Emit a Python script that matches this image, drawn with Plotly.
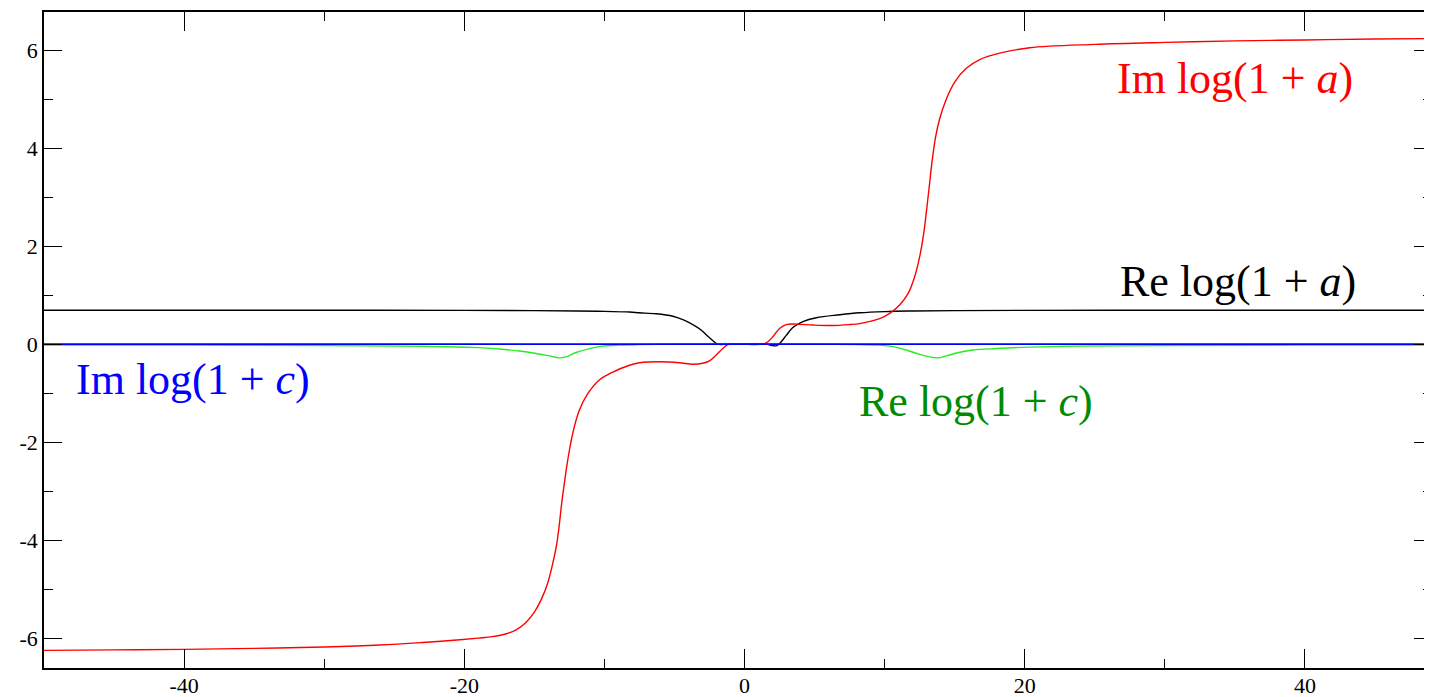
import plotly.graph_objects as go

# ---- data ----
re_a_x = [-50, -40, -30, -20, -15, -12, -10, -8.2, -7.5, -6.31, -5.12, -4.4, -3.69, -3.1, -2.62, -2.21, -1.9, -1.2,
          0, 1.55, 2.02, 2.31, 2.62, 2.98, 3.45, 4.17, 5.12, 6.79, 8.21, 10, 12, 15, 20, 30, 40, 50]
re_a_y = [0.693, 0.693, 0.692, 0.69, 0.685, 0.678, 0.67, 0.655, 0.64, 0.62, 0.57, 0.50, 0.40, 0.29, 0.16, 0.06, 0.0, 0.0,
          0.0, 0.0, -0.03, -0.03, 0.05, 0.18, 0.34, 0.46, 0.54, 0.60, 0.64, 0.665, 0.677, 0.685, 0.69, 0.692, 0.693, 0.693]

im_a_x = [-50, -45, -40, -35, -30, -26, -23, -21, -19, -18, -17, -16.3, -15.6, -15.0, -14.52, -14.05, -13.69, -13.40,
          -13.21, -13.05, -12.86, -12.62, -12.26, -11.79, -11.19, -10.36, -9.40, -8.21, -7.5, -6.07, -4.64, -3.69, -2.98,
          -2.5, -2.02, -1.55, -1.19, -0.36, 1.31, 1.67, 2.02, 2.5, 2.98, 3.69, 4.88, 6.31, 7.5, 8.21, 9.64, 10.36, 11.07,
          11.67, 12.14, 12.5, 12.79, 13.02, 13.21, 13.4, 13.64, 13.93, 14.4, 15.0, 15.83, 16.79, 18.21, 20.36, 25, 30,
          35, 40, 45, 50]
im_a_y = [-6.25, -6.24, -6.23, -6.21, -6.18, -6.14, -6.09, -6.05, -6.00, -5.97, -5.91, -5.83, -5.68, -5.47, -5.22, -4.88,
          -4.48, -4.07, -3.66, -3.25, -2.84, -2.37, -1.82, -1.35, -1.01, -0.73, -0.57, -0.43, -0.38, -0.36, -0.38, -0.41,
          -0.39, -0.34, -0.22, -0.09, -0.01, 0.0, 0.0, 0.05, 0.15, 0.32, 0.40, 0.41, 0.39, 0.38, 0.40, 0.42, 0.52, 0.63,
          0.80, 1.03, 1.37, 1.78, 2.26, 2.80, 3.28, 3.76, 4.23, 4.60, 5.00, 5.35, 5.63, 5.81, 5.94, 6.05, 6.12, 6.16,
          6.19, 6.21, 6.23, 6.24]

re_c_x = [-50, -40, -30, -25, -22, -18.93, -17.5, -16.07, -14.88, -13.93, -13.21, -12.74, -12.02, -11.07, -10.12, -8.93,
          -7.5, -5, 0, 5, 8, 9.64, 10.6, 11.55, 12.5, 13.21, 13.81, 14.4, 15.12, 16.31, 17.98, 20.36, 23.93, 30, 40, 50]
re_c_y = [-0.02, -0.02, -0.03, -0.04, -0.05, -0.07, -0.10, -0.14, -0.19, -0.24, -0.28, -0.26, -0.17, -0.09, -0.04, -0.02,
          -0.01, 0.0, 0.0, 0.0, -0.01, -0.02, -0.05, -0.12, -0.21, -0.26, -0.28, -0.24, -0.18, -0.12, -0.09, -0.06, -0.04,
          -0.03, -0.02, -0.02]

im_c_x = [-50, -25, 0, 25, 50]
im_c_y = [0.0, 0.0, 0.0, 0.0, 0.0]

x_tick_vals = [-40, -20, 0, 20, 40]
x_tick_text = ["-40", "-20", "0", "20", "40"]
x_minor_vals = [-50, -40, -30, -20, -10, 0, 10, 20, 30, 40]
y_tick_vals = [-6, -4, -2, 0, 2, 4, 6]
y_tick_text = ["-6", "-4", "-2", "0", "2", "4", "6"]
y_minor_vals = [-6, -5, -4, -3, -2, -1, 0, 1, 2, 3, 4, 5, 6]

labels = ["Im log(1 + <i>a</i>)", "Re log(1 + <i>a</i>)",
          "Im log(1 + <i>c</i>)", "Re log(1 + <i>c</i>)"]
label_x = [35.0, 35.2, -39.4, 16.5]
label_y = [5.43, 1.27, -0.73, -1.18]
label_colors = ["#ff0000", "#000000", "#0000ff", "#008a00"]

fig = go.Figure()
fig.add_trace(go.Scatter(x=re_a_x, y=re_a_y, mode="lines", line=dict(color="#000000", width=1.4, shape="spline", smoothing=1.0)))
fig.add_trace(go.Scatter(x=im_a_x, y=im_a_y, mode="lines", line=dict(color="#ff0000", width=1.4, shape="spline", smoothing=1.0)))
fig.add_trace(go.Scatter(x=re_c_x, y=re_c_y, mode="lines", line=dict(color="#22ee22", width=1.4, shape="spline", smoothing=1.0)))
fig.add_trace(go.Scatter(x=im_c_x, y=im_c_y, mode="lines", line=dict(color="#0000ff", width=1.6)))

for t, xx, yy, c in zip(labels, label_x, label_y, label_colors):
    fig.add_annotation(x=xx, y=yy, xref="x", yref="y", text=t, showarrow=False,
                       font=dict(family="Liberation Serif", size=44, color=c))

# page body has an 8px margin, so the figure is sized/offset to compensate
fig.update_layout(
    width=1424, height=689,
    margin=dict(l=36, r=0, t=4, b=29, autoexpand=False),
    paper_bgcolor="white", plot_bgcolor="white",
    showlegend=False,
    font=dict(family="Liberation Serif", size=22, color="black"),
)
fig.update_xaxes(range=[-50, 49.07], automargin=False, showgrid=False, zeroline=False, showline=True,
                 linecolor="black", linewidth=1.5, ticklabelstandoff=-3,
                 mirror="ticks", ticks="inside", ticklen=19, tickwidth=1.3, tickcolor="black",
                 tickmode="array", tickvals=x_tick_vals, ticktext=x_tick_text,
                 minor=dict(tickmode="array", tickvals=x_minor_vals, ticks="inside", ticklen=9, tickwidth=1.3, tickcolor="black"))
fig.update_yaxes(range=[-6.61, 6.78], automargin=False, showgrid=False, zeroline=False, showline=True,
                 linecolor="black", linewidth=1.5,
                 mirror="ticks", ticks="inside", ticklen=18, tickwidth=1.3, tickcolor="black",
                 tickmode="array", tickvals=y_tick_vals, ticktext=y_tick_text,
                 minor=dict(tickmode="array", tickvals=y_minor_vals, ticks="inside", ticklen=9, tickwidth=1.3, tickcolor="black"))

fig.write_html("out.html")
